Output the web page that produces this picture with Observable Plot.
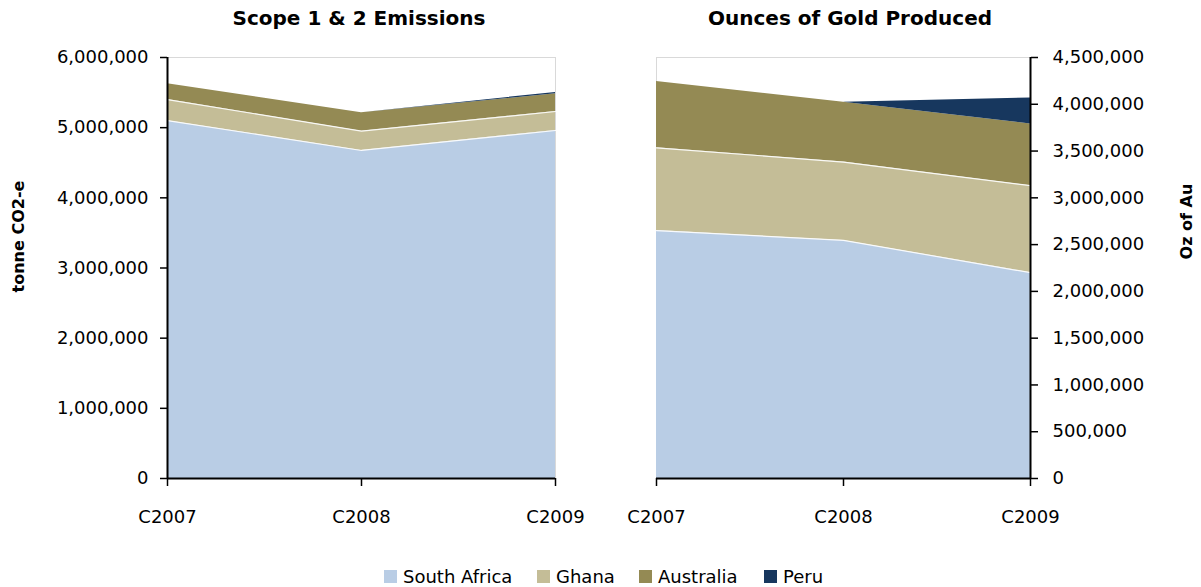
<!DOCTYPE html>
<html>
<head>
<meta charset="utf-8">
<script src="https://cdn.jsdelivr.net/npm/d3@7"></script>
<script src="https://cdn.jsdelivr.net/npm/@observablehq/plot@0.6"></script>
<style>
  html, body { margin: 0; padding: 0; background: #fff; }
  #wrap { position: relative; width: 1201px; height: 587px; font-family: "DejaVu Sans", sans-serif; color: #000; overflow: hidden; }
  .title { position: absolute; top: 6px; font-weight: bold; font-size: 20px; transform: translateX(-50%); white-space: nowrap; }
  .ylab { position: absolute; font-weight: bold; font-size: 16px; white-space: nowrap; transform-origin: center center; }
  .plot { position: absolute; top: 0; }
  .litem { position: absolute; top: 566px; display: flex; align-items: center; font-size: 18px; white-space: nowrap; }
  .litem .sw { width: 13px; height: 13px; margin-right: 6px; }
</style>
</head>
<body>
<div id="wrap">
  <div class="title" style="left:359px">Scope 1 &amp; 2 Emissions</div>
  <div class="title" style="left:850px">Ounces of Gold Produced</div>
  <div class="ylab" id="ylabL">tonne CO2-e</div>
  <div class="ylab" id="ylabR">Oz of Au</div>
  <div class="plot" id="left" style="left:0px"></div>
  <div class="plot" id="right" style="left:600px"></div>
  <div id="legend"></div>
</div>
<script>
// ---- data ----
const years = ["C2007", "C2008", "C2009"];
const countries = ["South Africa", "Ghana", "Australia", "Peru"];
const colors = ["#b9cde5", "#c4bd97", "#948a54", "#17375e"];

// Scope 1 & 2 emissions (tonne CO2-e)
const emSouthAfrica = [5100000, 4675000, 4960000];
const emGhana       = [300000, 275000, 270000];
const emAustralia   = [225000, 262000, 252000];
const emPeru        = [0, 0, 20000];

// Ounces of gold produced
const auSouthAfrica = [2650000, 2545000, 2200000];
const auGhana       = [885000, 837000, 930000];
const auAustralia   = [708000, 641000, 660000];
const auPeru        = [0, 0, 278000];

const emTicks = [0, 1000000, 2000000, 3000000, 4000000, 5000000, 6000000];
const auTicks = [0, 500000, 1000000, 1500000, 2000000, 2500000, 3000000, 3500000, 4000000, 4500000];

function rows(series) {
  const out = [];
  countries.forEach((c, i) => years.forEach((y, j) => out.push({year: y, country: c, value: series[i][j]})));
  return out;
}
const emData = rows([emSouthAfrica, emGhana, emAustralia, emPeru]);
const auData = rows([auSouthAfrica, auGhana, auAustralia, auPeru]);

const fmt = d3.format(",");
const font = "'DejaVu Sans', sans-serif";

function chart(data, ticks, side) {
  const left = side === "left";
  const stackOpts = {x: "year", y: "value", z: "country", order: countries};
  return Plot.plot({
    width: left ? 600 : 601,
    height: 540,
    marginLeft: left ? 167 : 56,
    marginRight: left ? 45 : 171,
    marginTop: 57,
    marginBottom: 62,
    style: {fontFamily: font, fontSize: "18px", color: "#000", background: "transparent", overflow: "visible"},
    x: {type: "point", domain: years, padding: 0},
    y: {domain: [ticks[0], ticks[ticks.length - 1]]},
    color: {domain: countries, range: colors},
    marks: [
      Plot.frame({stroke: "#d9d9d9"}),
      Plot.areaY(data, Plot.stackY({...stackOpts, fill: "country"})),
      Plot.lineY(data.filter(d => d.country === "South Africa" || d.country === "Ghana"), Plot.stackY2({...stackOpts, stroke: "white", strokeWidth: 1.2, strokeOpacity: 0.9})),
      Plot.axisY({anchor: left ? "left" : "right", ticks: ticks, tickFormat: fmt, tickSize: 7, tickPadding: left ? 12 : 15, strokeWidth: 1.5, label: null}),
      Plot.axisX({ticks: years, tickSize: 8, tickPadding: 24, strokeWidth: 1.5, label: null}),
      Plot.ruleX([left ? years[0] : years[2]], {stroke: "#000", strokeWidth: 2}),
      Plot.ruleY([0], {stroke: "#000", strokeWidth: 2})
    ]
  });
}

document.getElementById("left").append(chart(emData, emTicks, "left"));
document.getElementById("right").append(chart(auData, auTicks, "right"));

// axis labels (rotated)
function placeRot(el, cx, cy) {
  const w = el.offsetWidth, h = el.offsetHeight;
  el.style.left = (cx - w / 2) + "px";
  el.style.top = (cy - h / 2) + "px";
  el.style.transform = "rotate(-90deg)";
}
placeRot(document.getElementById("ylabL"), 19, 236);
placeRot(document.getElementById("ylabR"), 1187, 221);

// legend
const legendX = [384, 537, 639, 764];
const wrap = document.getElementById("wrap");
countries.forEach((c, i) => {
  const it = document.createElement("div");
  it.className = "litem";
  it.style.left = legendX[i] + "px";
  it.innerHTML = `<span class="sw" style="background:${colors[i]}"></span><span>${c}</span>`;
  wrap.append(it);
});
</script>
</body>
</html>
